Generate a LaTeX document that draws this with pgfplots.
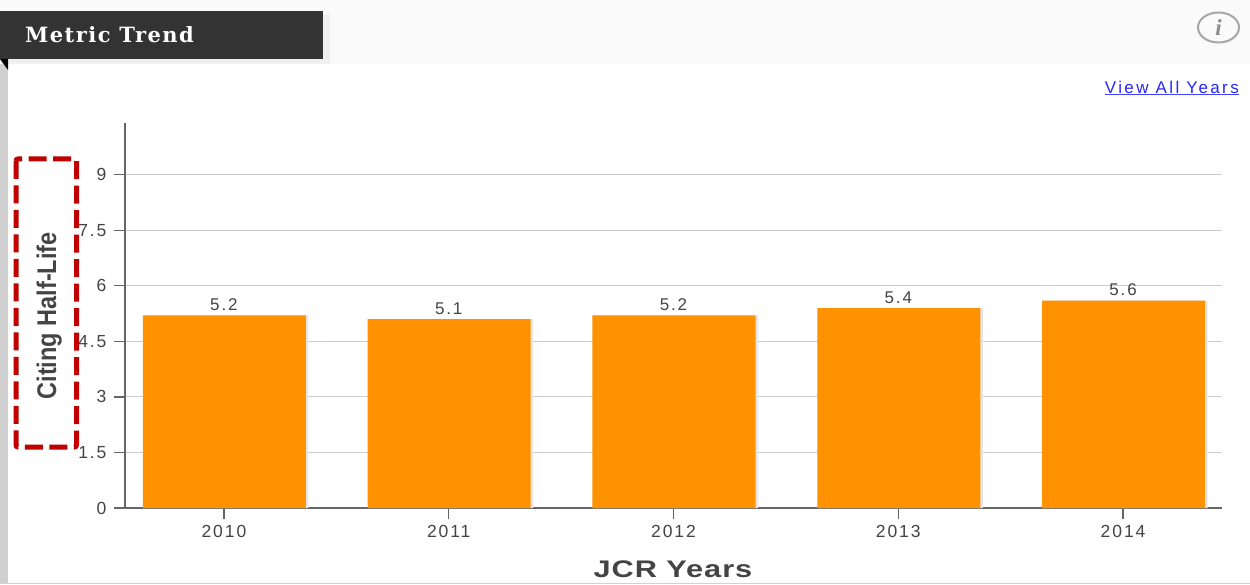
\documentclass[border=0pt]{standalone}
\usepackage{fontspec}
\usepackage{pgfplots}
\pgfplotsset{compat=1.18}
\setmainfont{Liberation Sans}
\newfontfamily\ticksfont[LetterSpace=11]{Liberation Sans}
\newfontfamily\linkfont[LetterSpace=14]{Liberation Sans}
\newfontfamily\jcrfont[LetterSpace=4,FakeStretch=1.28]{Liberation Sans Bold}
\newfontfamily\narrowfont[FakeStretch=0.87]{Liberation Sans Bold}
\newfontfamily\titlefont[LetterSpace=7]{DejaVu Serif}
\definecolor{barorange}{HTML}{FF9200}
\definecolor{axisgrey}{HTML}{666666}
\definecolor{gridgrey}{HTML}{CCCCCC}
\definecolor{textgrey}{HTML}{444444}
\definecolor{boxred}{HTML}{C00000}
\definecolor{headgrey}{HTML}{FAFAFA}
\definecolor{stripgrey}{HTML}{CFCFCF}
\definecolor{darkhead}{HTML}{333333}

\pgfplotstableread{
x y
0 5.2
1 5.1
2 5.2
3 5.4
4 5.6
}\halflife

\begin{document}
\begin{tikzpicture}[x=1pt,y=1pt]
    \path[use as bounding box] (0,0) rectangle (1250,584);
    % page furniture
    \fill[white] (0,0) rectangle (1250,584);
    \fill[headgrey] (0,520) rectangle (1250,584);
    \fill[stripgrey] (0,0) rectangle (8,520);
    \fill[black!6] (4,520) rectangle (330,570);
    \fill[darkhead] (0,525) rectangle (323,573);
    \fill[black] (0,525) -- (8,525) -- (8,514) -- cycle;
    \node[anchor=west, text=white, inner sep=0pt] at (25,549)
        {\titlefont\bfseries\fontsize{21}{24}\selectfont Metric Trend};
    \draw[black!35, line width=2] (1218.5,556.5) ellipse (20.5 and 15);
    \node[text=black!45] at (1218.5,556.5)
        {\fontspec{Liberation Serif}\itshape\bfseries\fontsize{23}{25}\selectfont i};
    \node[anchor=east, text=blue!85!white, inner sep=0pt] at (1239,497)
        {\linkfont\fontsize{17}{19}\selectfont View All Years};
    \draw[blue!75!white, line width=1] (1105,489.5) -- (1239,489.5);
    \fill[gray!35] (0,0) rectangle (1250,1);

    \begin{axis}[
        at={(125pt,76pt)},
        anchor=south west,
        scale only axis,
        width=1097pt,
        height=385pt,
        xmin=-0.44, xmax=4.44,
        ymin=0, ymax=10.4,
        axis x line*=bottom,
        axis y line*=left,
        axis line style={axisgrey, line width=1.6pt},
        xtick=data,
        xticklabels={2010,2011,2012,2013,2014},
        ytick={0,1.5,3,4.5,6,7.5,9},
        yticklabels={0,1.5,3,4.5,6,7.5,9},
        ymajorgrids,
        major grid style={gridgrey, line width=1pt},
        tick align=outside,
        major tick length=11pt,
        tick style={axisgrey, line width=1.2pt},
        xtick pos=bottom,
        ytick pos=left,
        tick label style={text=textgrey, font=\ticksfont\fontsize{17.5}{19}\selectfont},
        xticklabel style={yshift=-3pt},
        yticklabel style={xshift=-4pt},
        xlabel={JCR Years},
        xlabel style={at={(axis description cs:0.4995,-0.158)}, anchor=center,
            text=textgrey, font=\jcrfont\fontsize{24}{26}\selectfont},
        ylabel={Citing Half-Life},
        ylabel style={at={(axis description cs:-0.069,0.499)}, anchor=center,
            text=textgrey, font=\narrowfont\fontsize{27}{29}\selectfont},
        clip=false,
    ]
        % soft shadow under the bars
        \addplot[ybar, bar width=165pt, bar shift=2pt, draw=none, fill=black!10]
            table[x=x, y=y] {\halflife};
        \addplot[ybar, bar width=163pt, bar shift=0.5pt, draw=none, fill=barorange,
            nodes near coords,
            every node near coord/.append style={text=textgrey, inner sep=2pt, yshift=2.5pt,
                font=\ticksfont\fontsize{17}{19}\selectfont},
            /pgf/number format/.cd, fixed, fixed zerofill, precision=1, assume math mode=true]
            table[x=x, y=y] {\halflife};
    \end{axis}

    \draw[boxred, line width=5, dash pattern=on 18 off 6.5, rounded corners=2]
        (16,425) rectangle (76.5,137);
\end{tikzpicture}
\end{document}
